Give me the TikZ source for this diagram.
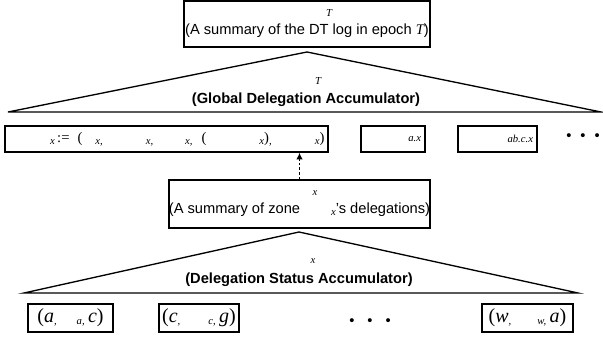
\documentclass[tikz,border=0pt]{standalone}
\usepackage{fontspec}
\setmainfont{Liberation Sans}
\newfontfamily\tms{Liberation Serif}
\usetikzlibrary{arrows.meta}

% gaps are given in px of the drawing (1px = 0.75pt)
\newcommand{\gap}[1]{\hspace*{\dimexpr #1pt*3/4\relax}}
\newcommand{\idx}[1]{{\normalfont\tms\itshape\fontsize{8}{8}\selectfont #1}}
\newcommand{\lowidx}[1]{\raisebox{-1.5pt}{\idx{#1}}}

\begin{document}
\begin{tikzpicture}[x=0.75pt, y=-0.75pt, >=Latex, every node/.style={font=\fontsize{11}{11}\selectfont}]

  % Define styles
  \tikzstyle{box} = [rectangle, draw=black, line width=1.1pt, inner sep=0pt, minimum height=19.5pt]
  \tikzstyle{sumbox} = [box, align=center, minimum height=35pt]
  \tikzstyle{pair} = [box, minimum height=21pt, font=\tms\fontsize{15}{15}\selectfont]
  \tikzstyle{heap} = [line width=1pt, line join=miter]
  \tikzstyle{accname} = [align=center, font=\bfseries\fontsize{11}{12}\selectfont]
  \tikzstyle{more} = [font=\fontsize{11}{11}\selectfont]
  \tikzstyle{line} = [draw, line width=1.1pt, dash pattern=on 2pt off 1.5pt, -{Latex[length=5pt, width=5pt]}]

  \useasboundingbox (0,0) rectangle (603,341);

  % Place nodes
  \node [sumbox, minimum width=184.5pt, minimum height=34.5pt] (dtlog) at (307,24) {\gap{44}\idx{T}\\[2.5pt](A summary of the DT log in epoch {\tms\itshape T})};

  \coordinate (gtop) at (307,52);
  \coordinate (gleft) at (8,112);
  \coordinate (gright) at (601,112);
  \node [accname] (gdaname) at (306,92) {\gap{24}\idx{T}\\[2pt](Global Delegation Accumulator)};

  \node [box, minimum width=242.25pt, text width=242.25pt, align=left, font=\tms\fontsize{11}{11}\selectfont] (acc) at (166.5,139)
    {\gap{45}\lowidx{x}\,:=\gap{8}(\gap{13}\lowidx{x,}\gap{43}\lowidx{x,}\gap{32}\lowidx{x,}\gap{9}(\gap{53}\lowidx{x})\lowidx{,}\gap{43}\lowidx{x})};
  \node [box, minimum width=48pt, text width=42pt, align=right] (accA) at (393,139) {\lowidx{a.x}};
  \node [box, minimum width=59.25pt, text width=53.25pt, align=right] (accAB) at (497.5,139) {\lowidx{ab.c.x}};
  \node [more] (accmore) at (583,137) {•\gap{9}•\gap{9}•};

  \node [sumbox, minimum width=192.75pt, minimum height=36pt] (zonesum) at (299.5,204) {\gap{31}\idx{x}\\[2.5pt](A summary of zone\gap{31}\lowidx{x}'s delegations)};

  \coordinate (dtop) at (299,232);
  \coordinate (dleft) at (24,293);
  \coordinate (dright) at (578,293);
  \node [accname] (dsaname) at (299,273) {\gap{28}\idx{x}\\[3pt](Delegation Status Accumulator)};

  \node [pair, minimum width=63.75pt] (pairA) at (70.5,318) {(\textit{a}\lowidx{,}\gap{20}\lowidx{a,}\,\textit{c})};
  \node [pair, minimum width=60pt] (pairC) at (199,318) {(\textit{c}\lowidx{,}\gap{28}\lowidx{c,}\,\textit{g})};
  \node [pair, minimum width=68.25pt] (pairW) at (527.5,318) {(\textit{w}\lowidx{,}\gap{26}\lowidx{w,}\,\textit{a})};
  \node [more] (pairmore) at (370,322) {•\gap{13}•\gap{13}•};

  % Draw accumulators and edges
  \draw [heap] (gtop) -- (gleft) -- (gright) -- cycle;
  \draw [heap] (dtop) -- (dleft) -- (dright) -- cycle;
  \path [line] (zonesum.north) -- (zonesum.north |- acc.south);

\end{tikzpicture}
\end{document}
